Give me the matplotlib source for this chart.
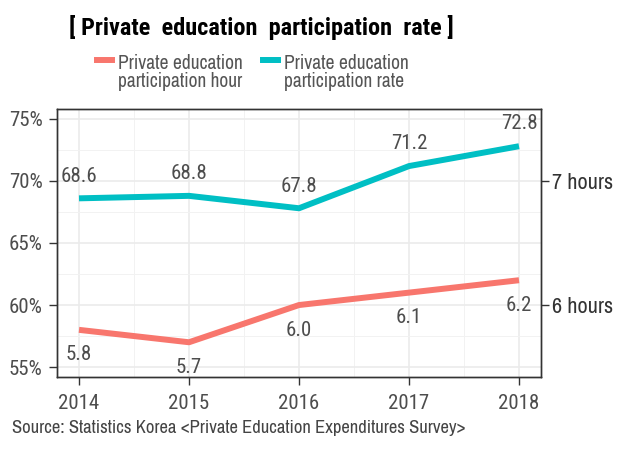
import matplotlib
matplotlib.use("Agg")
import matplotlib.pyplot as plt
from matplotlib.lines import Line2D
from matplotlib.ticker import MultipleLocator, FuncFormatter

# Private education survey, 2014-2018
years = [2014, 2015, 2016, 2017, 2018]
rate = [68.6, 68.8, 67.8, 71.2, 72.8]      # participation rate (%)
hours = [5.8, 5.7, 6.0, 6.1, 6.2]          # weekly participation hours
hour_ticks = [6, 7]
hour_tick_labels = ["6 hours", "7 hours"]

red = "#F8766D"
teal = "#00BFC4"
NUM = "Roboto Condensed"
TXT = "Archivo Narrow"

fig = plt.figure(figsize=(6.3, 4.55), dpi=100)
ax = fig.add_axes([57 / 630, 1 - 377 / 455, 484 / 630, 268 / 455])

# left axis: rate in %, right axis: hours (6h sits on 60%, 7h on 70%)
ylo, yhi = 54.2, 75.8
ax.set_ylim(ylo, yhi)
ax.set_xlim(2013.8, 2018.2)
ax2 = ax.twinx()
ax2.set_ylim((ylo - 60) / 10 + 6, (yhi - 60) / 10 + 6)

ax.plot(years, rate, color=teal, lw=4.3, solid_capstyle="butt", zorder=3)
ax2.plot(years, hours, color=red, lw=4.3, solid_capstyle="butt", zorder=3)

for x, v in zip(years, rate):
    ax.annotate(f"{v:.1f}", (x, v), xytext=(0, 16), textcoords="offset points",
                ha="center", va="center", fontsize=15, color="#4D4D4D", family=NUM)
for x, v in zip(years, hours):
    ax2.annotate(f"{v:.1f}", (x, v), xytext=(0, -18), textcoords="offset points",
                 ha="center", va="center", fontsize=15, color="#4D4D4D", family=NUM)

# grid, like a theme_bw panel
ax.set_xticks(years)
ax.xaxis.set_minor_locator(MultipleLocator(0.5))
ax.yaxis.set_major_locator(MultipleLocator(5))
ax.yaxis.set_minor_locator(MultipleLocator(2.5))
ax.yaxis.set_major_formatter(FuncFormatter(lambda v, p: f"{v:.0f}%"))
ax.grid(which="major", color="#EBEBEB", lw=1.2)
ax.grid(which="minor", color="#F2F2F2", lw=0.7)
ax.set_axisbelow(True)
ax.tick_params(which="minor", length=0)
ax.tick_params(which="major", length=6, width=1, color="#333333",
               labelcolor="#4D4D4D", labelsize=15)
ax.tick_params(axis="x", pad=6)
ax.tick_params(axis="y", pad=4.5)
for lab in ax.get_xticklabels() + ax.get_yticklabels():
    lab.set_fontfamily(NUM)

ax2.set_yticks(hour_ticks)
ax2.set_yticklabels(hour_tick_labels, fontsize=16, color="#333333", family=TXT)
ax2.tick_params(length=6, width=1, color="#333333", pad=2)
ax2.yaxis.set_minor_locator(plt.NullLocator())

for a in (ax, ax2):
    for s in a.spines.values():
        s.set_color("#333333")
        s.set_linewidth(1)

# title, legend and source note
fig.text(261 / 630, 1 - 27 / 455, "[ Private  education  participation  rate ]",
         ha="center", va="center", fontsize=17.5, fontweight="bold",
         family=NUM, color="black")

legend_items = [(red, "Private education\nparticipation hour", 97),
                (teal, "Private education\nparticipation rate", 263)]
for col, txt, xp in legend_items:
    fig.add_artist(Line2D([xp / 630, (xp + 15) / 630], [1 - 60 / 455] * 2,
                          color=col, lw=4.3, transform=fig.transFigure))
    fig.text((xp + 21) / 630, 1 - 54 / 455, txt, ha="left", va="top",
             fontsize=14, color="#555555", family=TXT, linespacing=0.95)

fig.text(12 / 630, 1 - 428 / 455,
         "Source: Statistics Korea <Private Education Expenditures Survey>",
         ha="left", va="center", fontsize=13.4, color="#444444", family=TXT)

fig.savefig("out.png", dpi=100)
